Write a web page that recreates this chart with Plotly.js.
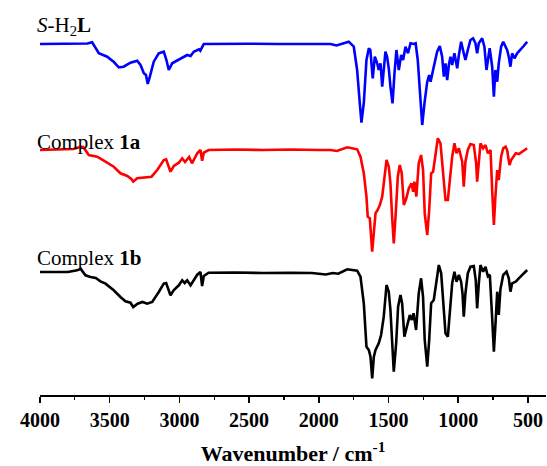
<!DOCTYPE html>
<html>
<head>
<meta charset="utf-8">
<script src="https://cdn.plot.ly/plotly-3.0.1.min.js"></script>
<style>html,body{margin:0;padding:0;background:#fff;}#chart{width:547px;height:466px;}</style>
</head>
<body>
<div id="chart"></div>
<script>
// Series names and colours
const seriesNames = ["S-H2L", "Complex 1a", "Complex 1b"];
const seriesLabels = ["<i>S</i>-H<sub>2</sub><b>L</b>", "Complex <b>1a</b>", "Complex <b>1b</b>"];
const seriesColors = ["#0000ff", "#ff0000", "#000000"];
// vertical offsets used to stack the spectra
const seriesOffsets = [250, 145, 22];

// S-H2L (blue): wavenumber (cm-1) and relative transmittance
const wnBlue = [4000,3900,3760,3660,3626,3600,3578,3518,3470,3435,3400,3351,3303,3279,3255,3240,3227,3212,3184,3148,3112,3093,3076,3052,3016,2980,2944,2920,2897,2860,2850,2825,2700,2500,2300,2100,2000,1916,1873,1830,1785,1749,1725,1706,1694,1677,1658,1641,1630,1613,1598,1581,1570,1557,1545,1534,1522,1510,1498,1486,1471,1457,1443,1426,1409,1395,1378,1360,1342,1318,1305,1290,1275,1258,1242,1222,1208,1198,1175,1151,1132,1115,1103,1091,1079,1067,1055,1043,1027,1007,995,979,960,948,931,912,893,876,864,852,828,812,797,785,774,756,744,733,720,709,692,677,660,649,637,625,613,596,577,553,530,505];
const tBlue = [101,101.3,101,101.5,102.7,97,91.7,88.3,83,77.7,78.3,82.3,84.3,80,71.7,70,61,68.3,83.3,91.7,93.3,85,75,81.7,84.3,87,90,89,93.3,95.7,94.3,101,101.2,101.3,101,101.2,101.5,101,99.5,101.5,103.3,98.3,75,42,22.3,42,85,96.7,95,66.7,88.3,81.7,75,81.7,58.3,75,93.3,88.3,76.7,58.3,41.7,71.7,95,75,90,85,98.3,91.7,101.7,101,101.7,85,51.7,20,41.7,63.3,70,63.3,78.3,93.3,99,88.3,68.3,81.7,65,80,88.3,80,91.7,76.7,90,103.3,91.7,85,95,105,106.7,101.7,91.7,101.7,106.7,98.3,75,85,96.7,78.3,48.3,75,63.3,81.7,98.3,103.3,98.3,95,88.3,78.3,91.7,86.7,91.7,95,99,103.3];

// Complex 1a (red)
const wnRed = [4000,3850,3760,3709,3690,3650,3590,3542,3471,3423,3374,3345,3331,3303,3270,3243,3200,3159,3112,3095,3076,3064,3040,3004,2980,2960,2930,2910,2872,2849,2837,2825,2790,2600,2400,2200,2000,1916,1870,1796,1725,1701,1677,1658,1649,1634,1617,1605,1593,1578,1562,1545,1529,1514,1498,1486,1474,1462,1448,1433,1419,1405,1390,1372,1354,1335,1323,1314,1300,1283,1266,1252,1240,1222,1208,1194,1180,1163,1146,1127,1108,1091,1074,1060,1043,1027,1012,995,983,971,960,948,931,912,888,871,864,852,840,821,804,787,768,754,744,733,720,709,692,677,660,649,632,620,601,587,565,541,505];
const tRed = [100,100.7,101,103.3,103,95,93.3,89.3,83.3,76.7,74,71,68.3,71.7,72,72.7,73.3,80,90,90.7,83.3,78.3,84,87.3,91.7,88,93,86.7,96.7,100,89.3,97.3,100,100.5,100,100.5,100,100,99,102.7,100.7,93.3,76.7,53.3,33.3,31.7,-1.7,20,36.7,40,45,53.3,70,90,83.3,66.7,33.3,6.7,36.7,73.3,85,76.7,45,51.7,61.7,66.7,58.3,68.3,53.3,86.7,95,80,36.7,15,40,76.7,78.3,95,111.7,106.7,76.7,50,50,70,93.3,106.7,96.7,101.7,95,88.3,63.3,88.3,100,106,105,86.7,68.3,86.7,106.7,101.7,105,96.7,100,53.3,25,53.3,80,70,93.3,101.7,103.3,100,85,90,93.3,96.7,96,98.3,101.7];

// Complex 1b (black)
const wnBlack = [4000,3800,3733,3709,3674,3638,3600,3566,3530,3471,3423,3387,3351,3331,3300,3265,3231,3195,3148,3112,3095,3076,3064,3040,3004,2980,2962,2944,2920,2897,2872,2849,2837,2825,2790,2600,2400,2200,2050,1950,1900,1860,1796,1725,1701,1677,1658,1641,1629,1617,1605,1593,1570,1553,1534,1514,1498,1486,1474,1462,1445,1431,1414,1402,1386,1367,1347,1333,1320,1302,1283,1266,1252,1240,1222,1208,1194,1175,1156,1139,1122,1108,1091,1074,1060,1043,1027,1012,995,979,969,960,948,931,912,888,874,864,852,840,821,804,787,773,756,744,733,720,709,697,677,653,637,625,613,587,565,541,505];
const tBlack = [101,101,102.7,104.3,97.7,96,95,91.7,89.3,82.7,76,71.7,70.3,66,69.3,71,69.3,71,81,89.3,90,82.7,77.7,83,87.7,92.7,90,92.7,87.7,92.7,98.3,101,87,97,100.3,100.5,100,100.3,100,98.5,100,99.3,103.7,102.3,96.3,69.7,26.3,23,16.3,-5.3,16.3,23,29.7,38,56.3,88,81.3,63,29.7,1.3,29.7,66.3,78,69.7,36.3,46.3,58,53,59.7,43,79.7,94.7,76,33,6.3,33,69.7,73,93,108,99.7,69.7,39.7,36.3,63,89.7,101.3,91.3,98,91.3,79.7,56.3,79.7,99.7,106.3,107,93,64.7,89.7,108,101.3,106.3,96.7,98.3,54.7,21.3,47.7,81.3,58,83.7,98,101.3,94.7,81.3,89.7,91.3,94.7,98,103];

const xTickVals = [4000,3500,3000,2500,2000,1500,1000,500];
const xTickText = ["4000","3500","3000","2500","2000","1500","1000","500"];
const xMinorVals = [3750,3250,2750,2250,1750,1250,750];

const wnAll = [wnBlue, wnRed, wnBlack];
const tAll = [tBlue, tRed, tBlack];

const traces = wnAll.map((wn, i) => ({
  x: wn,
  y: tAll[i].map(v => v + seriesOffsets[i]),
  type: "scatter",
  mode: "lines",
  name: seriesNames[i],
  line: {color: seriesColors[i], width: 2.6},
  showlegend: false,
  hoverinfo: "skip"
}));

const labelY = [0.934, 0.641, 0.348];
const annotations = seriesLabels.map((t, i) => ({
  text: t, xref: "paper", yref: "paper", x: -0.01, y: labelY[i],
  xanchor: "left", yanchor: "middle", showarrow: false,
  font: {family: "Liberation Serif", size: 21, color: "#000"}
}));

const layout = {
  width: 547, height: 466,
  margin: {l: 40, r: 1, t: 0, b: 71},
  paper_bgcolor: "#ffffff", plot_bgcolor: "#ffffff",
  xaxis: {
    range: [4000, 370], showgrid: false, zeroline: false,
    showline: true, linecolor: "#000", linewidth: 1.5,
    ticks: "outside", ticklen: 6, tickwidth: 1.5, tickcolor: "#000",
    tickvals: xTickVals, ticktext: xTickText,
    minor: {ticks: "outside", ticklen: 3, tickwidth: 1.2, tickcolor: "#000", tickvals: xMinorVals},
    tickfont: {family: "Liberation Serif", size: 20, color: "#000", weight: "bold"},
    title: {text: "Wavenumber / cm<sup>-1</sup>", standoff: 16,
      font: {family: "Liberation Serif", size: 22, color: "#000", weight: "bold"}}
  },
  yaxis: {range: [0, 395], visible: false, showgrid: false, zeroline: false},
  annotations: annotations
};

Plotly.newPlot("chart", traces, layout, {displayModeBar: false, staticPlot: true});
</script>
</body>
</html>
